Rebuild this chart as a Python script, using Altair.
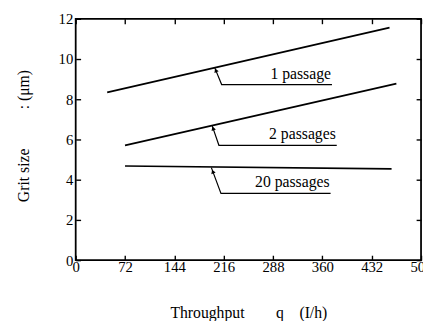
import altair as alt
import pandas as pd
import math

# ---- data ----
series = ["1 passage", "2 passages", "20 passages"]
throughput_start = [46, 72, 72]
throughput_end = [458, 468, 461]
grit_start = [8.34, 5.71, 4.68]
grit_end = [11.56, 8.78, 4.54]

# leader lines (tip on curve -> corner -> end under the label)
tip_x = [203, 199, 198]
tip_y = [9.56, 6.70, 4.60]
corner_x = [213, 209, 212]
corner_y = [8.73, 5.71, 3.32]
end_x = [374, 381, 372]

x_ticks = [0, 72, 144, 216, 288, 360, 432, 504]
y_ticks = [0, 2, 4, 6, 8, 10, 12]

W, H = 352, 246
X_DOM = [0, 504]
Y_DOM = [0, 12]
FONT = "Liberation Serif"

# ---- tables ----
line_rows = []
for s, x0, x1, y0, y1 in zip(series, throughput_start, throughput_end, grit_start, grit_end):
    line_rows.append({"s": s, "o": 0, "q": x0, "g": y0})
    line_rows.append({"s": s, "o": 1, "q": x1, "g": y1})
lines_df = pd.DataFrame(line_rows)

lead_rows, label_rows, arrow_rows = [], [], []
px = W / (X_DOM[1] - X_DOM[0])
py = H / (Y_DOM[1] - Y_DOM[0])
for s, tx, ty, cx, cy, ex in zip(series, tip_x, tip_y, corner_x, corner_y, end_x):
    lead_rows += [
        {"s": s, "o": 0, "q": tx, "g": ty},
        {"s": s, "o": 1, "q": cx, "g": cy},
        {"s": s, "o": 2, "q": ex, "g": cy},
    ]
    label_rows.append({"s": s, "q": ex, "g": cy})
    dxp = (tx - cx) * px
    dyp = (ty - cy) * py  # upward positive
    ang = math.degrees(math.atan2(dxp, dyp)) % 360
    arrow_rows.append({"s": s, "q": tx + 0.15 * (cx - tx), "g": ty + 0.15 * (cy - ty), "a": ang})
lead_df = pd.DataFrame(lead_rows)
label_df = pd.DataFrame(label_rows)
arrow_df = pd.DataFrame(arrow_rows)

xs = alt.Scale(domain=X_DOM, nice=False, zero=False)
ys = alt.Scale(domain=Y_DOM, nice=False, zero=False)

tick_common = dict(domain=False, offset=-5, tickSize=5, tickColor="black", tickWidth=1.4,
                   grid=False)

NB = "\u00a0"
x_bottom = alt.X("q:Q", scale=xs, axis=alt.Axis(
    orient="bottom", values=x_ticks, labelFlush=False, labelPadding=0,
    labelFont=FONT, labelFontSize=15, labelColor="black",
    title="Throughput" + NB * 8 + "q" + NB * 4 + "(I/h)",
    titleFont=FONT, titleFontSize=16, titleFontWeight="normal", titleColor="black",
    titlePadding=30, **tick_common))
y_left = alt.Y("g:Q", scale=ys, axis=alt.Axis(
    orient="left", values=y_ticks, labelPadding=3,
    labelFont=FONT, labelFontSize=15, labelColor="black",
    title="Grit size" + NB * 10 + ":" + NB + "(μm)",
    titleFont=FONT, titleFontSize=16, titleFontWeight="normal", titleColor="black",
    titleY=119, titlePadding=27, **tick_common))
x_top = alt.X("q:Q", scale=xs, axis=alt.Axis(
    orient="top", values=x_ticks, labels=False, title=None, **tick_common))
y_right = alt.Y("g:Q", scale=ys, axis=alt.Axis(
    orient="right", values=y_ticks, labels=False, title=None, **tick_common))

curves = alt.Chart(lines_df).mark_line(color="black", strokeWidth=1.7).encode(
    x=x_bottom, y=y_left, detail="s:N", order="o:Q")

leaders = alt.Chart(lead_df).mark_line(color="black", strokeWidth=1.2).encode(
    x=x_top, y=y_right, detail="s:N", order="o:Q")

arrows = alt.Chart(arrow_df).mark_point(
    shape="triangle-up", filled=True, color="black", size=22, opacity=1).encode(
    x=alt.X("q:Q", scale=xs, axis=None), y=alt.Y("g:Q", scale=ys, axis=None),
    angle=alt.Angle("a:Q", scale=None))

labels = alt.Chart(label_df).mark_text(
    align="right", baseline="alphabetic", dx=-1, dy=-6,
    font=FONT, fontSize=16, color="black").encode(
    x=alt.X("q:Q", scale=xs, axis=None), y=alt.Y("g:Q", scale=ys, axis=None),
    text="s:N")

chart = alt.layer(curves, leaders, arrows, labels).resolve_axis(
    x="independent", y="independent"
).properties(
    width=W, height=H,
    background="white",
    autosize=alt.AutoSizeParams(type="none"),
    padding={"left": 69, "top": 8, "right": 2, "bottom": 59},
).configure_view(stroke="black", strokeWidth=1.8)

chart.save("out.html", embed_options={"renderer": "svg", "actions": False})
